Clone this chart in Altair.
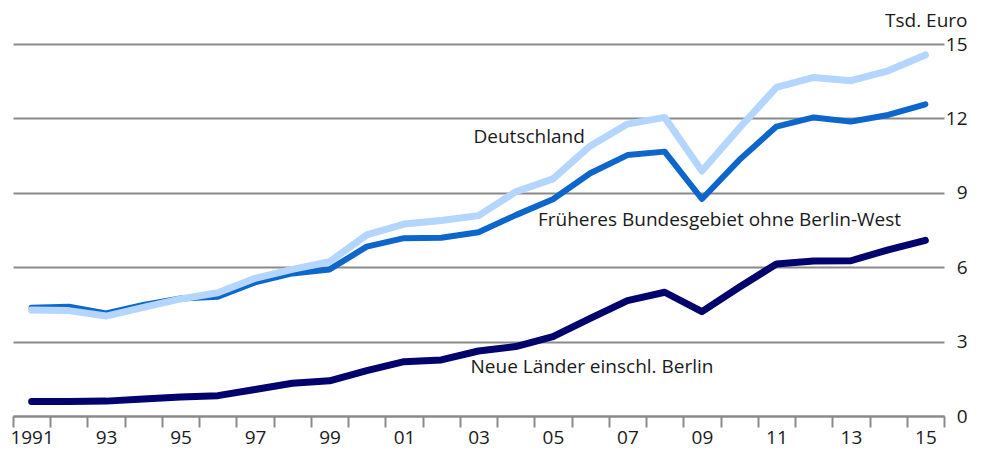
import altair as alt
import pandas as pd

years = list(range(1991, 2016))
deutschland = [4.27, 4.25, 4.03, 4.38, 4.72, 4.97, 5.55, 5.91, 6.22, 7.30, 7.74, 7.88, 8.08,
               9.04, 9.56, 10.89, 11.77, 12.04, 9.88, 11.60, 13.25, 13.65, 13.52, 13.92, 14.56]
frueheres = [4.37, 4.41, 4.14, 4.48, 4.74, 4.81, 5.39, 5.75, 5.91, 6.83, 7.17, 7.19, 7.41,
             8.10, 8.74, 9.79, 10.52, 10.66, 8.75, 10.32, 11.67, 12.04, 11.87, 12.14, 12.57]
neue = [0.58, 0.58, 0.60, 0.69, 0.77, 0.82, 1.07, 1.32, 1.42, 1.83, 2.19, 2.26, 2.62,
        2.80, 3.20, 3.94, 4.65, 4.99, 4.21, 5.19, 6.13, 6.25, 6.26, 6.70, 7.08]

series_names = ["Früheres Bundesgebiet ohne Berlin-West", "Deutschland", "Neue Länder einschl. Berlin"]
series_colors = ["#0c66cc", "#b3d5fe", "#03036e"]
series_widths = [6, 7, 7]

label_texts = ["Deutschland", "Früheres Bundesgebiet ohne Berlin-West", "Neue Länder einschl. Berlin"]
label_years = [2003, 2005, 2003]
label_values = [11.25, 7.9, 1.98]
label_dx = [-5, -15, -8]

FONT = "Open Sans"
GRAY = "#8a8a8a"

rows = []
for name, vals in zip(series_names, [frueheres, deutschland, neue]):
    for y, v in zip(years, vals):
        rows.append({"Jahr": y, "Wert": v, "Reihe": name})
df = pd.DataFrame(rows)

x_enc = alt.X(
    "Jahr:O",
    scale=alt.Scale(type="band", paddingInner=0, paddingOuter=0),
    axis=alt.Axis(
        title=None,
        tickBand="extent",
        labelAngle=0,
        labelExpr="datum.value == 1991 ? '1991' : (datum.value % 2 == 1 ? substring(toString(datum.value), 2, 4) : '')",
        labelFontSize=19,
        labelFont=FONT,
        labelColor="#1a1a1a",
        labelPadding=1,
        tickSize=11,
        tickWidth=2,
        tickColor=GRAY,
        domainColor=GRAY,
        domainWidth=2,
        grid=False,
    ),
)
y_scale = alt.Scale(domain=[0, 15], nice=False)

layers = []
for name, color, width in zip(series_names, series_colors, series_widths):
    layers.append(
        alt.Chart(df[df["Reihe"] == name])
        .mark_line(color=color, strokeWidth=width, strokeCap="round", strokeJoin="round")
        .encode(
            x=x_enc,
            y=alt.Y(
                "Wert:Q",
                scale=y_scale,
                axis=alt.Axis(
                    orient="right",
                    values=[0, 3, 6, 9, 12, 15],
                    title="Tsd. Euro",
                    titleAngle=0,
                    titleAlign="right",
                    titleBaseline="bottom",
                    titleX=23,
                    titleY=-14,
                    titleFont=FONT,
                    titleFontSize=19,
                    titleFontWeight="normal",
                    titleColor="#1a1a1a",
                    labelFont=FONT,
                    labelFontSize=19,
                    labelColor="#1a1a1a",
                    labelAlign="right",
                    labelPadding=23,
                    tickSize=0,
                    domain=False,
                    grid=True,
                    gridColor=GRAY,
                    gridWidth=2,
                ),
            ),
        )
    )

lab_df = pd.DataFrame({"Jahr": label_years, "Wert": label_values, "Text": label_texts, "dx": label_dx})
for i in range(len(label_texts)):
    layers.append(
        alt.Chart(lab_df.iloc[[i]])
        .mark_text(align="left", baseline="middle", font=FONT, fontSize=19, color="#1a1a1a", dx=label_dx[i])
        .encode(x=alt.X("Jahr:O"), y=alt.Y("Wert:Q"), text="Text:N")
    )

chart = (
    alt.layer(*layers)
    .properties(width=931, height=372, padding={"left": 5, "top": 36, "right": 30, "bottom": 34})
    .configure(autosize=alt.AutoSizeParams(type="none"))
    .configure_view(stroke=None)
)

chart.save("out.html", embed_options={"renderer": "svg", "actions": False})
